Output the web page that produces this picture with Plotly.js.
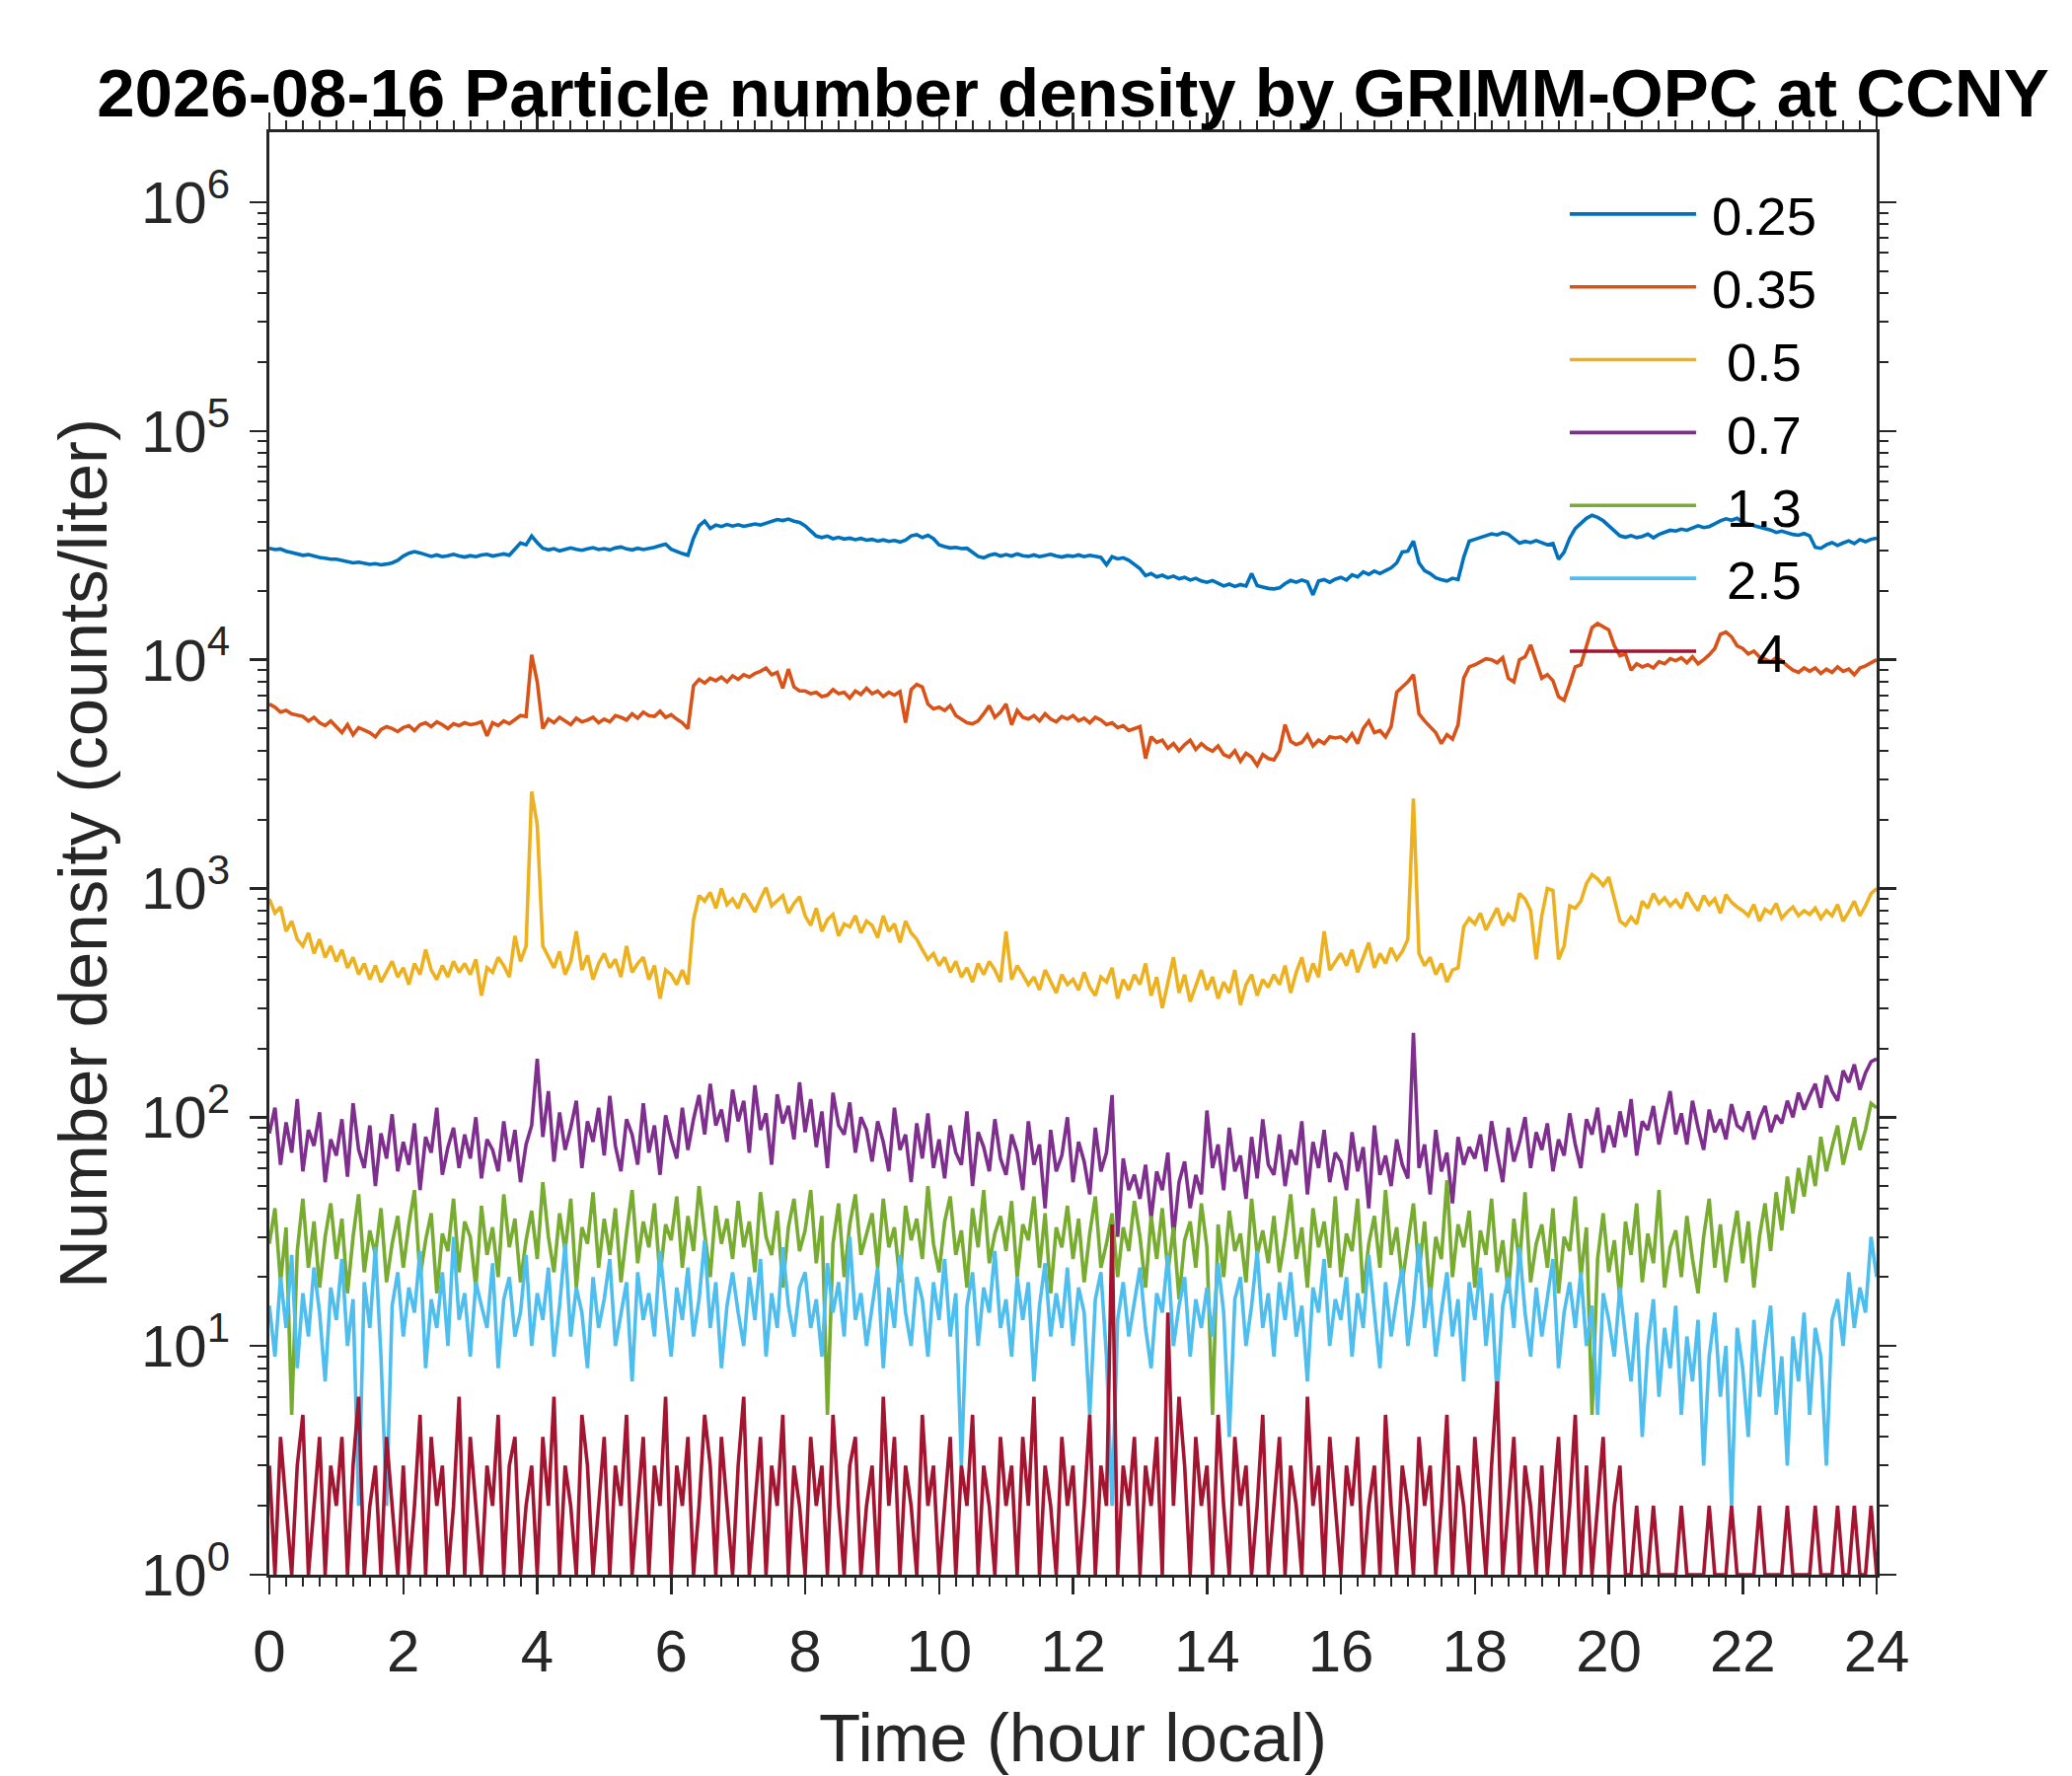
<!DOCTYPE html>
<html>
<head>
<meta charset="utf-8">
<script src="https://cdn.plot.ly/plotly-3.0.1.min.js"></script>
<style>
  html, body { margin: 0; padding: 0; background: #fff; }
  #grafico { width: 2100px; height: 1800px; }
</style>
</head>
<body>
<div id="grafico"></div>
<script>
// one sample every 5 minutes, 00:00 to 24:00 (289 samples); one row per hour
const stepMinutes = 5;

const sizes = ["0.25", "0.35", "0.5", "0.7", "1.3", "2.5", "4"];
const legendNames = ["\u20090.25", "\u20090.35", "\u2009\u00a00.5", "\u2009\u00a00.7", "\u2009\u00a01.3", "\u2009\u00a02.5", "\u2009\u00a0\u00a0\u00a04"];
const colors = ["#0072BD", "#D95319", "#EDB120", "#7E2F8E", "#77AC30", "#4DBEEE", "#A2142F"];

const n025 = [
  30700,30300,30500,29800,29400,29000,28600,28800,28300,28000,27800,27500,
  27500,27100,26900,26500,26700,26300,26100,26300,26000,26200,26500,27200,
  28400,29200,29700,29300,28800,28300,28700,28200,28500,28900,28400,28100,
  28500,28200,28700,28900,28400,28800,29000,28600,30500,32400,31800,34700,
  32500,30700,30200,30600,29900,30300,30800,30400,30100,30500,30900,30300,
  30600,30200,30800,31100,30500,30200,30700,30300,30600,31000,31500,32000,
  30400,29600,29100,28600,34000,38500,40400,37500,38800,38200,39000,38400,
  38900,38300,38700,39200,38800,39500,40500,41000,40600,41200,40300,39800,
  38500,36500,34700,34200,34700,33800,34300,33700,34000,33500,33900,33300,
  33600,33000,33400,32900,33200,32700,33300,34800,35200,34200,35000,33800,
  31800,31200,30800,31000,30600,30700,29500,28300,27900,28600,29000,28400,
  28800,28400,29000,28500,28300,28700,28200,28600,28900,28400,28100,28500,
  28300,28700,28200,28600,28400,28000,26000,28200,27600,27900,27200,26200,
  25000,23300,23800,23000,23400,22800,23200,22600,22900,22300,22700,22100,
  21800,22200,21600,21000,21400,20900,21300,21000,23800,21100,20800,20500,
  20400,20600,21500,22200,21800,22300,21900,19200,22100,22400,21800,22500,
  22900,22300,23500,23000,24200,23600,24400,23800,24500,25200,26500,29600,
  29800,33000,26500,24500,23800,22800,22400,22100,22700,22400,28000,33000,
  33600,34200,34800,35500,35100,35900,35300,33800,32300,32900,32500,33200,
  32600,31800,32200,27500,29500,34000,37500,39600,41500,42800,41900,40500,
  38500,36200,34800,34300,34900,34200,34600,35400,34100,35300,36200,36800,
  36500,37200,36800,37600,38500,37800,38200,39300,40500,41300,40700,41500,
  40000,39200,38700,38100,37400,36900,36000,36500,35800,35300,35000,35600,
  34800,31000,30700,31800,32500,31600,32400,33100,32200,33500,32800,33600,
  34000
];

const n035 = [
  6400,6200,5900,6000,5800,5750,5650,5400,5600,5300,5150,5400,
  5100,4800,5200,4700,5050,4900,4800,4600,4950,5100,5000,4850,
  5050,5150,4900,5200,5300,5100,5350,5200,5000,5250,5150,5300,
  5200,5250,5350,4650,5300,5150,5400,5250,5500,5700,5650,10500,
  8000,5000,5500,5300,5600,5400,5200,5550,5350,5450,5600,5300,
  5500,5350,5700,5600,5450,5800,5550,5900,5700,5650,5950,5600,
  5750,5500,5300,5000,7700,8200,7900,8300,8100,8400,8000,8500,
  8200,8600,8400,8700,8900,9200,8600,8800,7500,9100,7600,7300,
  7300,7100,7200,6900,7000,7400,7100,7200,6800,7300,7050,7500,
  7100,7300,6900,7200,7000,7250,5300,7400,7800,7600,6400,6100,
  6200,6000,6300,5700,5500,5300,5250,5400,5800,6300,5600,5900,
  6400,5200,6000,5600,5500,5700,5400,5800,5500,5350,5650,5500,
  5700,5400,5550,5300,5600,5450,5200,5300,5050,5150,4900,5000,
  5100,3700,4600,4350,4450,4100,4300,4000,4250,4450,4050,4300,
  4100,3980,4200,3850,3750,4000,3600,3900,3750,3450,3850,3700,
  3650,4000,5200,4400,4250,4350,4700,4200,4450,4300,4600,4550,
  4600,4400,4750,4300,5000,5400,4800,4900,4600,5100,7200,7600,
  8000,8600,5800,5400,5100,4800,4300,4700,4500,5200,8300,9300,
  9500,9800,10100,10000,9700,10200,8300,8000,10000,10300,11600,9800,
  8300,8600,8100,6900,6650,7800,9300,9500,11500,13800,14400,13900,
  13500,11500,10400,10600,9000,9600,9300,9500,9200,9800,9600,10100,
  9900,10200,9700,10300,9600,10000,10500,11200,12900,13200,12600,11500,
  11200,10600,10900,10300,10000,9800,10200,9900,9400,9000,8800,9200,
  8900,9200,8700,9100,8800,9300,8900,9100,8600,9200,9400,9700,
  10000
];

const n05 = [
  900,780,830,650,720,600,560,640,520,600,500,560,
  480,540,450,500,420,470,400,460,390,430,480,410,
  450,380,470,420,540,440,400,460,410,480,430,470,
  420,490,340,450,430,500,460,410,620,480,560,2650,
  1900,560,500,450,530,420,480,650,440,510,400,470,
  520,450,490,410,560,430,470,500,400,460,330,440,
  420,380,440,380,730,930,880,960,820,1000,850,900,
  820,950,870,790,900,1010,840,880,930,780,860,920,
  760,690,820,650,730,770,620,700,680,760,640,720,
  690,610,760,650,700,580,720,640,600,540,490,520,
  460,500,430,480,410,450,390,470,420,480,440,390,
  650,400,460,420,380,410,360,440,390,350,420,380,
  400,360,430,370,340,410,390,450,330,400,360,420,
  380,470,340,410,300,390,500,350,420,320,380,440,
  360,410,330,390,350,440,310,380,420,340,400,370,
  420,380,460,350,430,500,390,470,410,650,440,480,
  520,460,540,430,500,580,450,520,470,550,490,530,
  600,2470,520,460,500,420,470,390,440,450,680,740,
  700,780,660,740,820,690,770,720,950,900,800,490,
  760,1000,980,490,560,840,820,880,1050,1150,1100,1030,
  1120,900,720,690,750,700,880,820,950,860,910,840,
  890,820,960,870,800,930,850,900,780,940,870,830,
  800,760,850,720,810,780,860,740,790,830,760,800,
  770,820,740,800,760,850,720,790,880,760,840,950,
  1000
];

const n07 = [
  85,110,62,95,70,120,58,88,75,105,52,80,
  68,98,55,115,72,60,92,50,85,66,103,58,
  78,62,94,48,82,70,110,56,74,90,60,84,
  66,100,54,80,72,58,96,64,88,52,76,92,
  180,82,130,64,105,72,90,118,60,96,78,110,
  68,124,75,58,98,84,62,115,70,92,56,102,
  80,66,110,72,98,125,84,140,92,108,78,132,
  96,118,70,138,88,104,62,126,94,112,80,142,
  86,120,74,106,60,128,92,84,116,70,100,88,
  64,96,78,58,110,72,84,52,94,66,104,60,
  80,54,92,70,62,106,50,86,74,58,98,66,
  56,84,70,48,96,62,76,40,88,58,68,100,
  52,78,64,46,90,58,70,125,30,66,48,56,
  44,62,36,58,48,70,30,52,64,40,56,46,
  107,60,76,48,90,58,68,44,82,54,98,62,
  56,84,50,72,62,96,46,78,60,88,52,70,
  64,48,86,58,74,40,92,56,68,50,80,62,
  54,234,60,76,46,88,58,70,42,82,62,74,
  66,84,58,96,70,52,90,64,78,100,60,86,
  72,94,58,80,68,104,76,60,98,84,110,70,
  92,74,106,82,120,68,96,88,112,76,100,130,
  84,104,76,118,90,72,108,86,98,80,114,92,
  88,106,80,98,112,86,102,94,118,100,128,108,
  124,140,110,152,130,118,160,142,170,132,156,175,
  180
];

const n13 = [
  28,40,19,33,5,26,44,22,35,18,30,42,
  24,36,17,30,46,21,32,25,40,19,28,37,
  22,34,48,20,29,38,17,31,26,44,21,35,
  30,18,41,25,33,20,46,27,36,19,29,39,
  24,52,30,21,38,26,44,18,33,28,47,22,
  36,25,40,19,31,48,23,35,27,42,20,34,
  29,45,22,37,26,50,31,20,41,28,36,24,
  43,27,35,21,47,30,25,39,18,33,44,26,
  32,48,23,37,5,28,42,20,34,46,25,31,
  38,22,44,27,33,19,41,29,36,24,50,28,
  21,35,45,25,32,18,40,27,48,23,31,37,
  26,43,20,34,29,45,22,38,17,33,27,41,
  24,36,19,31,45,22,28,38,20,33,26,43,
  30,18,37,24,40,21,33,16,29,35,22,42,
  27,5,34,20,39,26,31,19,44,25,32,23,
  37,21,30,46,24,33,18,40,27,35,22,45,
  20,31,26,44,17,28,37,22,48,25,33,19,
  29,42,21,35,16,30,24,53,20,34,27,39,
  18,32,25,44,21,29,17,36,23,47,19,28,
  34,22,40,17,30,26,45,20,33,5,24,38,
  21,29,16,35,25,42,19,31,23,48,18,27,
  32,20,37,24,17,30,44,22,34,19,28,39,
  23,35,18,30,42,26,47,32,55,38,60,45,
  68,50,82,58,74,92,62,80,100,72,88,115,
  110
];

const n25 = [
  15,9,20,12,25,8,17,11,22,14,7,18,
  13,24,10,16,2,19,12,27,9,2,15,21,
  11,18,14,26,8,16,12,21,10,30,13,17,
  9,19,15,12,23,8,16,20,11,14,25,10,
  17,13,22,9,15,28,11,18,14,8,20,12,
  16,24,10,14,19,7,21,13,17,11,26,15,
  9,18,13,22,11,16,29,12,19,8,15,21,
  14,10,20,13,24,9,17,12,27,15,11,18,
  21,12,16,9,23,14,19,11,30,13,17,10,
  15,22,8,18,12,25,14,10,20,16,9,19,
  13,24,11,17,3,15,21,10,18,14,26,12,
  16,9,20,13,19,7,15,23,11,17,12,22,
  10,18,14,5,16,21,9,2,13,19,11,16,
  22,12,8,17,14,25,10,15,20,9,16,12,
  18,11,23,14,4,16,20,10,15,26,12,17,
  9,19,13,21,11,15,7,18,14,24,10,16,
  13,20,9,17,12,25,14,8,19,11,16,22,
  10,15,28,12,18,9,14,21,11,16,7,19,
  13,22,10,17,6,15,20,12,27,14,9,18,
  11,16,24,8,14,19,12,21,10,15,5,17,
  13,9,18,11,7,14,4,10,16,6,12,8,
  15,5,11,7,13,3,9,14,6,10,2,12,
  8,4,13,6,10,15,5,9,3,11,7,14,
  5,12,9,3,13,16,10,21,12,18,14,30,
  20
];

const n4 = [
  3,1,4,2,1,3,5,1,2,4,1,3,
  2,4,1,3,6,1,2,3,1,4,2,1,
  3,1,2,5,1,4,2,3,1,2,6,1,
  4,2,1,3,2,5,1,3,4,1,2,3,
  1,4,2,6,1,3,2,1,5,3,1,2,
  4,1,3,2,5,1,2,4,1,3,2,6,
  1,3,2,4,1,2,5,3,1,4,2,1,
  3,6,1,2,4,1,3,2,5,1,3,2,
  1,4,2,3,1,5,2,1,3,4,1,2,
  3,1,6,2,4,1,3,2,1,5,2,3,
  1,2,4,1,3,2,5,1,3,2,1,4,
  2,3,1,4,2,6,1,3,2,1,4,2,
  3,1,2,5,1,3,2,34,1,3,2,4,
  1,3,2,4,1,14,2,6,3,1,4,2,
  3,1,5,2,1,4,2,3,1,2,5,1,
  2,4,1,3,2,1,6,2,3,1,4,2,
  1,3,2,4,1,2,3,1,5,2,1,3,
  2,1,4,2,3,1,2,5,1,3,2,1,
  4,2,1,3,7,1,2,4,1,3,2,1,
  3,1,2,4,1,2,5,1,3,1,2,4,
  1,2,3,1,1,2,1,1,2,1,1,1,
  1,2,1,1,1,1,2,1,1,1,2,1,
  1,1,1,2,1,1,1,1,2,1,1,1,
  1,2,1,1,1,2,1,1,2,1,1,2,
  1
];

const series = [n025, n035, n05, n07, n13, n25, n4];

const fuente = '"Liberation Sans", Arial, Helvetica, sans-serif';
const gris = "#262626";

const horas = n025.map((_, i) => i * stepMinutes / 60);

const trazas = series.map((valores, k) => ({
    x: horas,
    y: valores,
    type: "scatter",
    mode: "lines",
    name: legendNames[k],
    line: { color: colors[k], width: 3.6 },
    hoverinfo: "skip"
}));

// ticks del eje logaritmico
const mayores = [];
const etiquetas = [];
for (let p = 0; p <= 6; p++) {
    mayores.push(Math.pow(10, p));
    etiquetas.push("10<sup>" + p + "</sup>");
}
const menores = [];
for (let p = 0; p <= 6; p++) {
    for (let m = 2; m <= 9; m++) {
        const v = m * Math.pow(10, p);
        if (v < 2e6) menores.push(v);
    }
}

const layout = {
    width: 2100,
    height: 1800,
    margin: { l: 273, r: 198, t: 134, b: 204 },
    paper_bgcolor: "#ffffff",
    plot_bgcolor: "#ffffff",
    font: { family: fuente, color: gris },
    showlegend: true,
    title: {
        text: "2026-08-16 Particle number density by GRIMM-OPC at CCNY",
        font: { family: fuente, size: 69, color: "#000000", weight: "bold" },
        x: 0.5, xref: "paper", xanchor: "center",
        y: 1 - 94 / 1800, yref: "container", yanchor: "middle"
    },
    xaxis: {
        range: [0, 24],
        tickmode: "linear", tick0: 0, dtick: 2,
        ticks: "outside", ticklen: 17, tickwidth: 2.5, tickcolor: gris,
        minor: { dtick: 0.25, ticks: "outside", ticklen: 9, tickwidth: 2, tickcolor: gris },
        showline: true, linecolor: gris, linewidth: 3, mirror: "allticks",
        showgrid: false, zeroline: false,
        tickfont: { family: fuente, size: 60, color: gris },
        ticklabelstandoff: 6,
        title: { text: "Time (hour local)", font: { family: fuente, size: 69, color: gris }, standoff: 40 }
    },
    yaxis: {
        type: "log",
        range: [0, 6.306],
        tickmode: "array", tickvals: mayores, ticktext: etiquetas,
        ticks: "outside", ticklen: 17, tickwidth: 2.5, tickcolor: gris,
        minor: { tickmode: "array", tickvals: menores, ticks: "outside", ticklen: 9, tickwidth: 2, tickcolor: gris },
        showline: true, linecolor: gris, linewidth: 3, mirror: "allticks",
        showgrid: false, zeroline: false,
        tickfont: { family: fuente, size: 60, color: gris },
        ticklabelstandoff: 8,
        title: { text: "Number density (counts/liter)", font: { family: fuente, size: 69, color: gris }, standoff: 12 }
    },
    legend: {
        x: 0.806, xanchor: "left",
        y: 0.972, yanchor: "top",
        bgcolor: "rgba(0,0,0,0)",
        borderwidth: 0,
        font: { family: fuente, size: 54.5, color: "#000000" },
        itemwidth: 128,
        tracegroupgap: 0
    }
};

Plotly.newPlot("grafico", trazas, layout, { staticPlot: true, displayModeBar: false });
</script>
</body>
</html>
